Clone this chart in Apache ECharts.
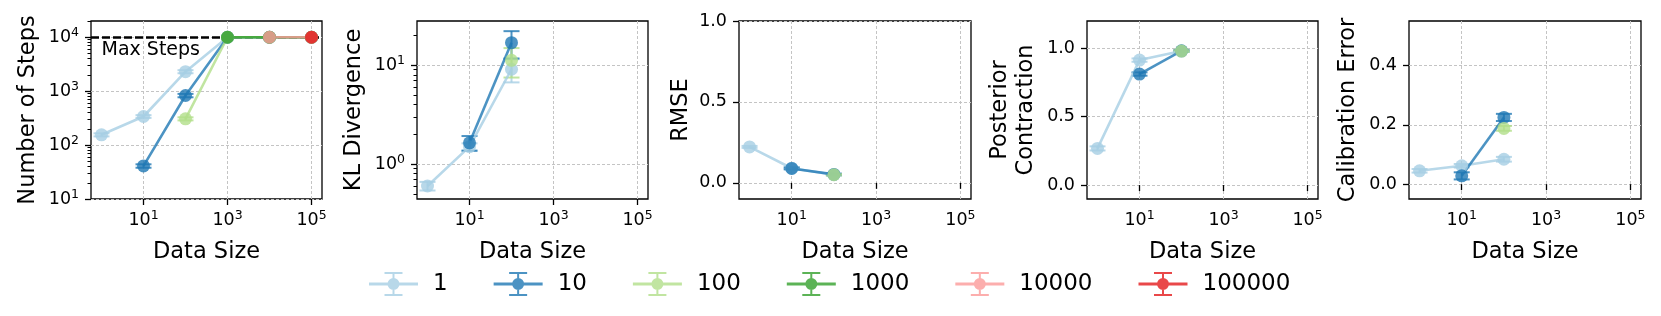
<!DOCTYPE html>
<html><head><meta charset="utf-8">
<script src="https://cdn.jsdelivr.net/npm/echarts@6/dist/echarts.min.js"></script>
<style>html,body{margin:0;padding:0;background:#fff}#c{width:1661px;height:316px}</style>
</head><body><div id="c"></div>
<script>
// ---------- data ----------
const dataSize = [1, 10, 100, 1000, 10000, 100000];
const groups = ['1', '10', '100', '1000', '10000', '100000'];
const colors = ['#a6cee3', '#1f78b4', '#b2df8a', '#33a02c', '#fb9a99', '#e31a1c'];

const stepsMean = [
  [155, 339, 2300, 10000, 10000, 10000],
  [null, 41, 830, 10000, 10000, 10000],
  [null, null, 307, 10000, 10000, 10000],
  [null, null, null, 10000, 10000, 10000],
  [null, null, null, null, 10000, 10000],
  [null, null, null, null, null, 10000]
];
const stepsErr = [
  [10, 20, 150],
  [null, 3, 60],
  [null, null, 20]
];
const klMean = [
  [0.60, 1.50, 9.1],
  [null, 1.64, 16.9],
  [null, null, 11.2]
];
const klErr = [
  [0.06, 0.12, 2.4],
  [null, 0.28, 5.2],
  [null, null, 3.7]
];
const rmseMean = [
  [0.222, 0.090, 0.050],
  [null, 0.089, 0.052],
  [null, null, 0.050]
];
const rmseErr = [
  [0.006, 0.005, 0.004],
  [null, 0.006, 0.005],
  [null, null, 0.004]
];
const contrMean = [
  [0.268, 0.914, 0.980],
  [null, 0.812, 0.982],
  [null, null, 0.980]
];
const contrErr = [
  [0.015, 0.012, 0.006],
  [null, 0.012, 0.006],
  [null, null, 0.006]
];
const calMean = [
  [0.045, 0.062, 0.084],
  [null, 0.028, 0.225],
  [null, null, 0.188]
];
const calErr = [
  [0.006, 0.006, 0.008],
  [null, 0.012, 0.012],
  [null, null, 0.008]
];
const maxSteps = 10000;

// axis limits and tick values
const xMin = 0.5623, xMax = 177828;
const xTicks = [10, 1000, 100000];
const stepsTicks = [10, 100, 1000, 10000];
const stepsMinor = [20,30,40,50,60,70,80,90,200,300,400,500,600,700,800,900,2000,3000,4000,5000,6000,7000,8000,9000,20000];
const klTicks = [1, 10];
const klMinor = [0.5,0.6,0.7,0.8,0.9,2,3,4,5,6,7,8,9,20];
const unitTicks = [0, 0.5, 1.0];
const calTicks = [0, 0.2, 0.4];

// ---------- chart ----------
const FONT = 'DejaVu Sans';
const TOP = 21, H = 178;
const panels = [
  {mean: stepsMean, err: stepsErr, title: 'Number of Steps', type: 'log', min: 10, max: 20000, ticks: stepsTicks, minor: stepsMinor, left: 91, width: 231, nameGap: 50},
  {mean: klMean, err: klErr, title: 'KL Divergence', type: 'log', min: 0.443, max: 28, ticks: klTicks, minor: klMinor, left: 417, width: 231, nameGap: 50},
  {mean: rmseMean, err: rmseErr, title: 'RMSE', type: 'value', min: -0.1, max: 1.0, ticks: unitTicks, left: 739, width: 232, nameGap: 45},
  {mean: contrMean, err: contrErr, title: 'Posterior\nContraction', type: 'value', min: -0.102, max: 1.2, ticks: unitTicks, left: 1087, width: 231, nameGap: 48},
  {mean: calMean, err: calErr, title: 'Calibration Error', type: 'value', min: -0.05, max: 0.55, ticks: calTicks, left: 1409, width: 232, nameGap: 48}
];

const rich = {
  b: {fontSize: 17.5, fontFamily: FONT, color: '#000', lineHeight: 22},
  s: {fontSize: 12.5, fontFamily: FONT, color: '#000', lineHeight: 14, verticalAlign: 'top'}
};
const logFmt = v => '{b|10}{s|' + Math.round(Math.log10(v)) + '}';
const gridLine = {show: true, lineStyle: {color: '#c4c4c4', width: 1, type: [3, 2]}};
const tickStyle = {color: '#000', width: 1.3};

const grids = [], xAxes = [], yAxes = [], series = [];

function errRender(color) {
  return function (params, api) {
    const x = api.value(0), y = api.value(1), e = api.value(2);
    const hi = api.coord([x, y + e]), lo = api.coord([x, y - e]);
    const cw = 8;
    const st = {stroke: color, lineWidth: 2, opacity: 0.8};
    return {type: 'group', children: [
      {type: 'line', shape: {x1: hi[0], y1: hi[1], x2: lo[0], y2: lo[1]}, style: st},
      {type: 'line', shape: {x1: hi[0] - cw, y1: hi[1], x2: hi[0] + cw, y2: hi[1]}, style: st},
      {type: 'line', shape: {x1: lo[0] - cw, y1: lo[1], x2: lo[0] + cw, y2: lo[1]}, style: st}
    ]};
  };
}

panels.forEach((p, pi) => {
  grids.push({left: p.left, top: TOP, width: p.width, height: H, show: true, borderColor: '#000', borderWidth: 1.3, backgroundColor: 'transparent'});
  xAxes.push({
    type: 'log', gridIndex: pi, min: xMin, max: xMax,
    name: 'Data Size', nameLocation: 'middle', nameGap: 42,
    nameTextStyle: {fontSize: 22.5, fontFamily: FONT, color: '#000'},
    axisLine: {show: false},
    axisTick: {show: true, length: 6, customValues: xTicks, lineStyle: tickStyle},
    axisLabel: {show: true, margin: 10, customValues: xTicks, formatter: logFmt, rich: rich},
    splitLine: gridLine, minorTick: {show: false}, minorSplitLine: {show: false}
  });
  const ya = {
    type: p.type, gridIndex: pi, min: p.min, max: p.max,
    name: p.title, nameLocation: 'middle', nameRotate: 90, nameGap: p.nameGap,
    nameTextStyle: {fontSize: 22.5, fontFamily: FONT, color: '#000', lineHeight: 26},
    axisLine: {show: false},
    axisTick: {show: true, length: 6, customValues: p.ticks, lineStyle: tickStyle},
    axisLabel: {show: true, margin: 12, customValues: p.ticks},
    splitLine: gridLine
  };
  if (p.type === 'log') {
    ya.axisLabel.formatter = logFmt; ya.axisLabel.rich = rich;
  } else {
    ya.axisLabel.formatter = v => Number(v).toFixed(1);
    ya.axisLabel.fontSize = 17.5; ya.axisLabel.fontFamily = FONT; ya.axisLabel.color = '#000';
  }
  yAxes.push(ya);
});

// overlay grids carrying the minor ticks of the log y axes
panels.forEach((p, pi) => {
  if (!p.minor) return;
  const gi = grids.length;
  grids.push({left: p.left, top: TOP, width: p.width, height: H, show: false});
  xAxes.push({type: 'value', gridIndex: gi, min: 0, max: 1, show: false});
  yAxes.push({type: 'log', gridIndex: gi, min: p.min, max: p.max,
    axisLine: {show: false}, axisLabel: {show: false}, splitLine: {show: false},
    axisTick: {show: true, length: 3.5, customValues: p.minor, lineStyle: {color: '#000', width: 1}}});
});

// Max Steps reference line + label (panel 1)
series.push({
  type: 'line', xAxisIndex: 0, yAxisIndex: 0, data: [[1, maxSteps]], symbol: 'none',
  lineStyle: {opacity: 0}, silent: true, z: 1,
  markLine: {silent: true, z: 1, symbol: ['none', 'none'], label: {show: false},
    lineStyle: {color: '#000', width: 2.6, type: [8, 3]}, data: [{yAxis: maxSteps}]},
  markPoint: {silent: true, z: 6, symbol: 'circle', symbolSize: 0,
    data: [{coord: [1, maxSteps], label: {show: true, formatter: 'Max Steps', position: [0, 3],
      align: 'left', verticalAlign: 'top', fontSize: 19, fontFamily: FONT, color: '#000'}}]}
});

panels.forEach((p, pi) => {
  groups.forEach((g, gi) => {
    const m = p.mean[gi] || [];
    const e = p.err[gi] || [];
    const pts = [], bars = [];
    dataSize.forEach((s, k) => {
      if (m[k] != null) {
        pts.push([s, m[k]]);
        if (e[k] != null) bars.push([s, m[k], e[k]]);
      }
    });
    if (!pts.length) return;
    series.push({type: 'line', name: g, xAxisIndex: pi, yAxisIndex: pi, data: pts,
      symbol: 'circle', symbolSize: 13, showSymbol: true, showAllSymbol: true, color: colors[gi],
      lineStyle: {width: 2.6, opacity: 0.8}, itemStyle: {opacity: 0.8}, silent: true, z: 2});
    if (bars.length) series.push({type: 'custom', name: g, xAxisIndex: pi, yAxisIndex: pi,
      data: bars, renderItem: errRender(colors[gi]), silent: true, z: 2});
  });
});

const ICON = 'path://M0,10.5H49V13.5H0Z M23.5,1H25.5V23H23.5Z M15.5,0H33.5V2H15.5Z M15.5,22H33.5V24H15.5Z M18.5,12A6,6,0,1,1,30.5,12A6,6,0,1,1,18.5,12Z';

const chart = echarts.init(document.getElementById('c'), null, {renderer: 'canvas'});
chart.setOption({
  animation: false,
  backgroundColor: '#fff',
  textStyle: {fontFamily: FONT},
  grid: grids, xAxis: xAxes, yAxis: yAxes, series: series,
  legend: {
    left: 364, top: 267, itemWidth: 49, itemHeight: 24, itemGap: 46, selectedMode: false,
    textStyle: {fontSize: 23, fontFamily: FONT, color: '#000', padding: [0, 0, 0, 10]},
    data: groups.map((g, i) => ({name: g, icon: ICON, itemStyle: {color: colors[i], opacity: 0.8, borderWidth: 0}}))
  }
});
</script></body></html>
